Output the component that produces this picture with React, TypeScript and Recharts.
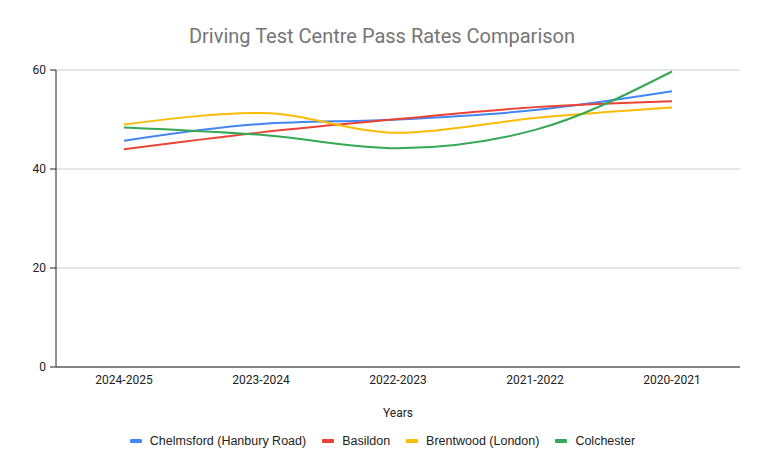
import { CartesianGrid, Legend, Line, LineChart, XAxis, YAxis } from "recharts";

const years = ["2024-2025", "2023-2024", "2022-2023", "2021-2022", "2020-2021"];
const chelmsford = [45.7, 49.1, 50.0, 51.9, 55.7];
const basildon = [44.0, 47.4, 50.1, 52.5, 53.7];
const brentwood = [49.0, 51.3, 47.3, 50.3, 52.4];
const colchester = [48.4, 46.9, 44.2, 47.9, 59.7];
const yTicks = [0, 20, 40, 60];

const series = [
  { key: "chelmsford", name: "Chelmsford (Hanbury Road)", color: "#4285F4" },
  { key: "basildon", name: "Basildon", color: "#EA4335" },
  { key: "brentwood", name: "Brentwood (London)", color: "#FBBC04" },
  { key: "colchester", name: "Colchester", color: "#34A853" },
];

const data = years.map((year, i) => ({
  year,
  chelmsford: chelmsford[i],
  basildon: basildon[i],
  brentwood: brentwood[i],
  colchester: colchester[i],
}));

const font = "Roboto, 'Liberation Sans', Arial, sans-serif";
const legendFont = "'Liberation Sans', Arial, sans-serif";

function LegendContent() {
  return (
    <div
      style={{
        display: "flex",
        justifyContent: "center",
        alignItems: "center",
        gap: 16,
        fontFamily: legendFont,
        fontSize: 12.5,
        color: "#222",
        paddingLeft: 25,
        paddingTop: 11,
      }}
    >
      {series.map((s) => (
        <div key={s.key} style={{ display: "flex", alignItems: "center" }}>
          <span
            style={{
              display: "inline-block",
              width: 12,
              height: 4,
              borderRadius: 1,
              background: s.color,
              marginRight: 8,
            }}
          />
          <span>{s.name}</span>
        </div>
      ))}
    </div>
  );
}

export default function App() {
  return (
    <div
      style={{
        position: "absolute",
        top: 0,
        left: 0,
        width: 764,
        height: 473,
        background: "#fff",
      }}
    >
      <div
        style={{
          position: "absolute",
          top: 23,
          left: 0,
          width: 764,
          textAlign: "center",
          fontFamily: font,
          fontSize: 20,
          color: "#757575",
          lineHeight: "26px",
        }}
      >
        Driving Test Centre Pass Rates Comparison
      </div>
      <LineChart
        width={764}
        height={473}
        data={data}
        margin={{ top: 70, right: 24, left: 0, bottom: 14 }}
      >
        <CartesianGrid vertical={false} stroke="#cccccc" />
        <XAxis
          dataKey="year"
          height={56}
          padding={{ left: 68, right: 68 }}
          tickLine={false}
          tickSize={0}
          tickMargin={8}
          axisLine={{ stroke: "#222" }}
          tick={{ fill: "#222", fontSize: 12, fontFamily: font }}
          label={{
            value: "Years",
            position: "insideBottom",
            offset: 6,
            fill: "#222",
            fontSize: 12,
            fontFamily: font,
          }}
        />
        <YAxis
          width={56}
          domain={[0, 60]}
          ticks={yTicks}
          tickSize={6}
          tickMargin={4}
          axisLine={{ stroke: "#222" }}
          tickLine={{ stroke: "#222" }}
          tick={{ fill: "#222", fontSize: 12, fontFamily: font }}
        />
        <Legend
          verticalAlign="bottom"
          height={36}
          content={() => <LegendContent />}
        />
        {series.map((s) => (
          <Line
            key={s.key}
            type="monotone"
            dataKey={s.key}
            name={s.name}
            stroke={s.color}
            strokeWidth={2}
            dot={false}
            activeDot={false}
            isAnimationActive={false}
          />
        ))}
      </LineChart>
    </div>
  );
}
